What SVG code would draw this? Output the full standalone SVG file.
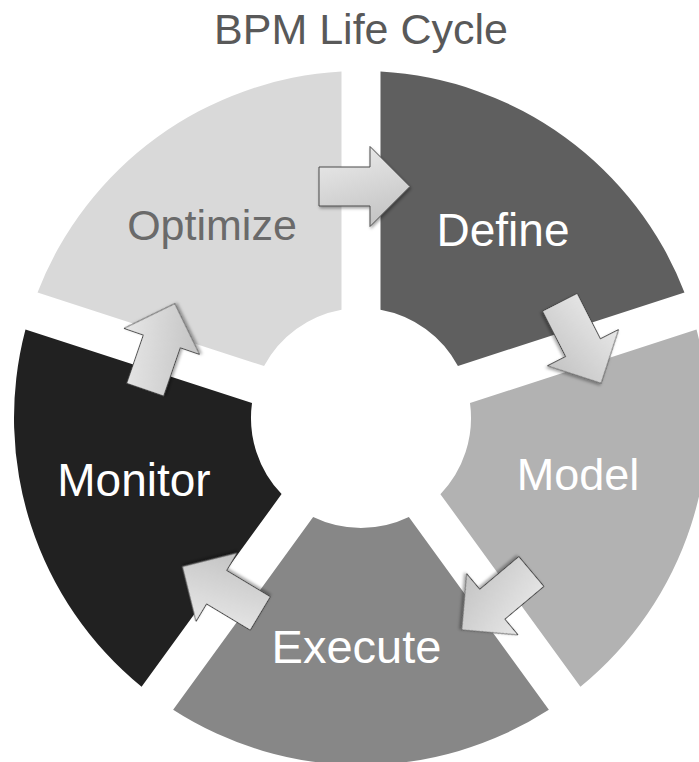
<svg xmlns="http://www.w3.org/2000/svg" width="699" height="762" viewBox="0 0 699 762">
<style>
.lbl{font-family:"Liberation Sans",Arial,sans-serif;text-anchor:middle}
.w{fill:#ffffff}
.arr{fill:url(#ag);stroke:#4a4a4a;stroke-width:1;filter:url(#sh)}
</style>
<defs>
<path id="seg" d="M 380.5,71.55 A 347,347 0 0 1 684.47,292.39 L 457.94,366.0 A 110,110 0 0 0 380.5,309.74 Z"/>
<path id="arrow" d="M -45.5,-19.5 L 5.5,-19.5 L 5.5,-40 L 45.5,0 L 5.5,40 L 5.5,19.5 L -45.5,19.5 Z"/>
<linearGradient id="ag" x1="0" y1="0" x2="0.3" y2="1">
<stop offset="0" stop-color="#ededed"/>
<stop offset="1" stop-color="#c6c6c6"/>
</linearGradient>
<filter id="sh" x="-20%" y="-20%" width="140%" height="140%">
<feDropShadow dx="1" dy="2" stdDeviation="1.5" flood-color="#000" flood-opacity="0.35"/>
</filter>
</defs>
<rect width="699" height="762" fill="#ffffff"/>
<text class="lbl" x="361" y="44" font-size="43" fill="#595959">BPM Life Cycle</text>
<g id="define">
<use href="#seg" fill="#5f5f5f"/>
<text class="lbl w" x="503" y="246" font-size="46">Define</text>
</g>
<g id="model">
<use href="#seg" fill="#b2b2b2" transform="rotate(72 361 418)"/>
<text class="lbl w" x="578" y="490" font-size="45">Model</text>
</g>
<g id="execute">
<use href="#seg" fill="#878787" transform="rotate(144 361 418)"/>
<text class="lbl w" x="356.5" y="663" font-size="47">Execute</text>
</g>
<g id="monitor">
<use href="#seg" fill="#212121" transform="rotate(216 361 418)"/>
<text class="lbl w" x="134" y="496" font-size="46">Monitor</text>
</g>
<g id="optimize">
<use href="#seg" fill="#d9d9d9" transform="rotate(288 361 418)"/>
<text class="lbl" x="212" y="240" font-size="43" fill="#6a6a6a">Optimize</text>
</g>
<g id="connectors">
<use href="#arrow" class="arr" transform="translate(364.5 186.5)"/>
<use href="#arrow" class="arr" transform="translate(580.5 342.8) rotate(63)"/>
<use href="#arrow" class="arr" transform="translate(496.5 600.7) rotate(140)"/>
<use href="#arrow" class="arr" transform="translate(221.3 590) rotate(211)"/>
<use href="#arrow" class="arr" transform="translate(160 346.6) rotate(289)"/>
</g>
</svg>
